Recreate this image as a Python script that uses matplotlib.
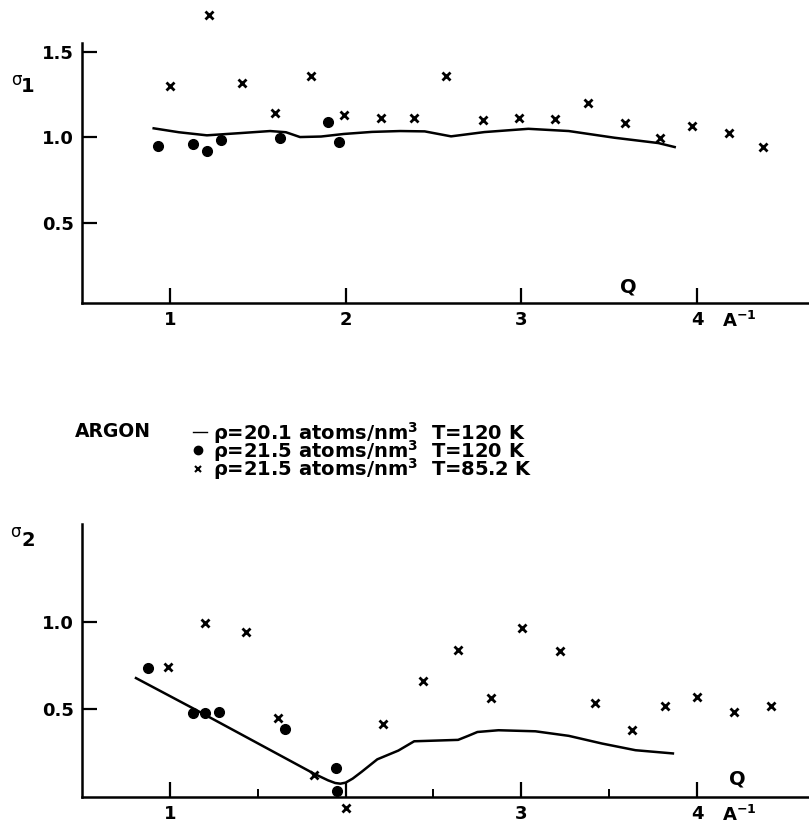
import matplotlib
matplotlib.use("Agg")
import matplotlib.pyplot as plt
from matplotlib.transforms import blended_transform_factory

plt.rcParams['font.family'] = ['DejaVu Sans']
plt.rcParams['font.weight'] = 'bold'
plt.rcParams['mathtext.fontset'] = 'dejavusans'
plt.rcParams['mathtext.default'] = 'regular'

# ---- sigma_1 data ----
s1_line_q = [0.90, 1.05, 1.21, 1.40, 1.57, 1.66, 1.74, 1.86, 1.99, 2.15, 2.31, 2.45,
             2.60, 2.79, 3.04, 3.27, 3.53, 3.78, 3.88]
s1_line_v = [1.054, 1.030, 1.012, 1.025, 1.037, 1.030, 1.002, 1.005, 1.020, 1.032, 1.037,
             1.035, 1.006, 1.031, 1.050, 1.037, 0.998, 0.967, 0.942]
s1_dot_q = [0.93, 1.13, 1.21, 1.29, 1.625, 1.90, 1.96]
s1_dot_v = [0.95, 0.96, 0.92, 0.987, 0.996, 1.089, 0.973]
s1_x_q = [1.00, 1.22, 1.41, 1.60, 1.80, 1.99, 2.20, 2.39, 2.57, 2.78, 2.985, 3.19, 3.38, 3.59, 3.79, 3.97, 4.18, 4.375]
s1_x_v = [1.298, 1.715, 1.318, 1.141, 1.36, 1.128, 1.112, 1.112, 1.356, 1.099, 1.112, 1.105, 1.20, 1.085, 0.996, 1.066, 1.025, 0.944]

# ---- sigma_2 data ----
s2_line_q = [0.80, 1.133, 1.82, 1.90, 1.94, 1.97, 2.00, 2.04, 2.09, 2.18, 2.30, 2.39, 2.64,
             2.70, 2.75, 2.87, 3.08, 3.27, 3.46, 3.65, 3.87]
s2_line_v = [0.682, 0.505, 0.133, 0.095, 0.080, 0.076, 0.082, 0.105, 0.143, 0.215, 0.265,
             0.318, 0.326, 0.350, 0.371, 0.381, 0.375, 0.349, 0.305, 0.267, 0.248]
s2_dot_q = [0.876, 1.13, 1.20, 1.28, 1.653, 1.944, 1.95]
s2_dot_v = [0.739, 0.48, 0.48, 0.486, 0.387, 0.168, 0.034]
s2_x_q = [0.99, 1.20, 1.43, 1.613, 1.82, 2.00, 2.213, 2.442, 2.642, 2.829, 3.006, 3.219, 3.419, 3.63, 3.819, 4.00, 4.21, 4.42]
s2_x_v = [0.743, 0.991, 0.943, 0.451, 0.124, -0.06, 0.415, 0.663, 0.838, 0.566, 0.966, 0.833, 0.534, 0.385, 0.52, 0.571, 0.486, 0.52]

top_xticks = [1, 2, 3, 4]
top_xlabels = ['1', '2', '3', '4']
bot_xticks = [1, 2, 3, 4]
bot_xlabels = ['1', '', '3', '4']
bot_xminor = [1.5, 2.5, 3.5]
top_yticks = [0.5, 1.0, 1.5]
top_ylabels = ['0.5', '1.0', '1.5']
bot_yticks = [0.5, 1.0]
bot_ylabels = ['0.5', '1.0']

legend_labels = [r'ρ=20.1 atoms/nm$^3$  T=120 K',
                 r'ρ=21.5 atoms/nm$^3$  T=120 K',
                 r'ρ=21.5 atoms/nm$^3$  T=85.2 K']

W, H = 809, 831
fig = plt.figure(figsize=(W / 100, H / 100), dpi=100)

def fx(px):
    return px / W

def fy(py):
    return 1 - py / H

ax1 = fig.add_axes([fx(82), fy(303), fx(808) - fx(82), fy(43) - fy(303)])
ax2 = fig.add_axes([fx(82), fy(797), fx(808) - fx(82), fy(524) - fy(797)])

XLIM = (0.499, 4.632)

def style(ax, xt, xl, yt, yl, ylim):
    ax.set_xlim(*XLIM)
    ax.set_ylim(*ylim)
    for s in ['top', 'right']:
        ax.spines[s].set_visible(False)
    for s in ['left', 'bottom']:
        ax.spines[s].set_linewidth(1.8)
    ax.set_xticks(xt)
    ax.set_xticklabels(xl)
    ax.set_yticks(yt)
    ax.set_yticklabels(yl)
    ax.tick_params(axis='both', direction='in', length=11, width=1.6,
                   labelsize=13, pad=6)
    for t in ax.get_xticklabels() + ax.get_yticklabels():
        t.set_fontweight('bold')

style(ax1, top_xticks, top_xlabels, top_yticks, top_ylabels, (0.035, 1.55))
style(ax2, bot_xticks, bot_xlabels, bot_yticks, bot_ylabels, (0.0, 1.558))
ax2.set_xticks(bot_xminor, minor=True)
ax2.tick_params(axis='x', which='minor', direction='in', length=6, width=1.4)

for ax, lq, lv, dq, dv, xq, xv in [
        (ax1, s1_line_q, s1_line_v, s1_dot_q, s1_dot_v, s1_x_q, s1_x_v),
        (ax2, s2_line_q, s2_line_v, s2_dot_q, s2_dot_v, s2_x_q, s2_x_v)]:
    ax.plot(lq, lv, color='black', lw=1.8, solid_capstyle='butt', solid_joinstyle='round')
    ax.plot(dq, dv, 'o', color='black', ms=7, clip_on=False)
    ax.plot(xq, xv, 'x', color='black', ms=6, mew=2.0, clip_on=False)

# Q labels and units
ax1.text(3.61, 0.13, 'Q', fontsize=14, fontweight='bold', ha='center', va='center')
ax2.text(4.23, 0.105, 'Q', fontsize=14, fontweight='bold', ha='center', va='center')
for ax in (ax1, ax2):
    tr = blended_transform_factory(ax.transData, ax.transAxes)
    ax.text(4.14, -0.03, r'A$^{-1}$', transform=tr, fontsize=13, fontweight='bold',
            ha='left', va='top')

# sigma labels
fig.text(fx(16), fy(80), 'σ', fontsize=12, ha='center', va='center', fontweight='normal')
fig.text(fx(28), fy(87), '1', fontsize=14, fontweight='bold', ha='center', va='center')
fig.text(fx(15), fy(532), 'σ', fontsize=12, ha='center', va='center', fontweight='normal')
fig.text(fx(28), fy(541), '2', fontsize=14, fontweight='bold', ha='center', va='center')

# legend block
fig.text(fx(75), fy(432), 'ARGON', fontsize=13.5, fontweight='bold', ha='left', va='center')
lax = fig.add_axes([0, 0, 1, 1], facecolor='none')
lax.set_xlim(0, W)
lax.set_ylim(H, 0)
lax.axis('off')
rows = [432, 450, 467]
lax.plot([193, 207], [rows[0], rows[0]], color='black', lw=1.0)
lax.plot([198], [rows[1]], 'o', color='black', ms=6)
lax.plot([198], [rows[2] + 2], 'x', color='black', ms=5, mew=1.5)
lax.text(213, rows[0] - 12, '\n'.join(legend_labels), fontsize=14, fontweight='bold',
         ha='left', va='top', linespacing=0.61)

fig.savefig('out.png', dpi=100)
